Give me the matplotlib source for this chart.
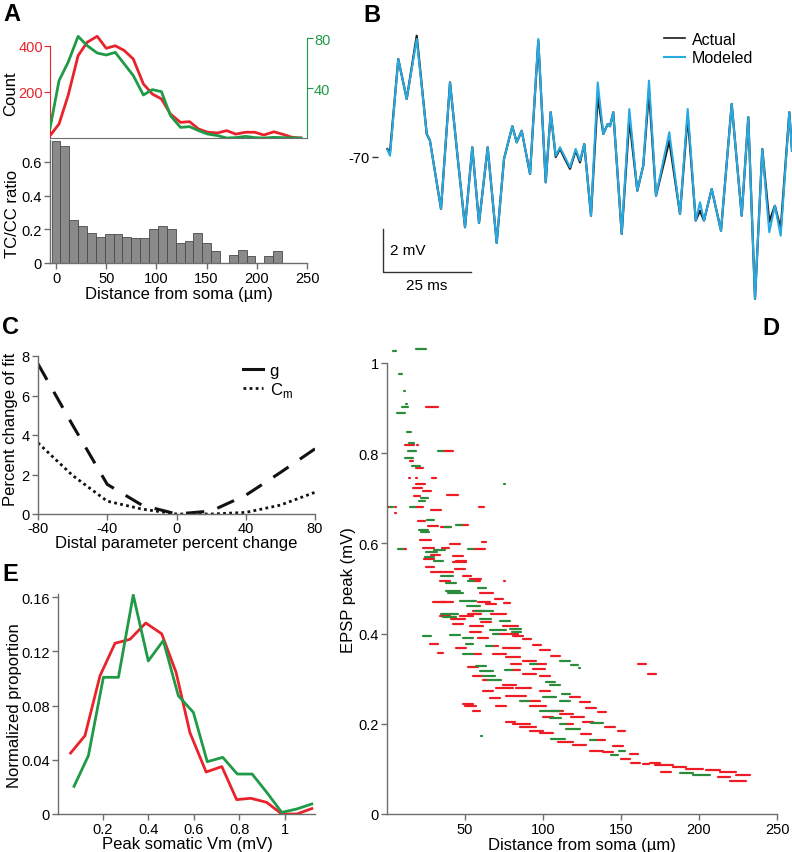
import matplotlib
matplotlib.use("Agg")
import matplotlib.pyplot as plt
from matplotlib.lines import Line2D

plt.rcParams['font.family'] = ['Liberation Sans', 'DejaVu Sans']
plt.rcParams['axes.unicode_minus'] = False

W, H = 792, 853
RED = '#e8232b'
GREEN = '#1f9a46'
D_RED = '#ee1c25'
D_GREEN = '#2a8c3c'
CYAN = '#27aae1'
GREY = '#6d6d6d'

# --- A: synapse counts and TC/CC ratio vs distance ---
count_dist = [-6, 3, 12, 22, 31, 41, 50, 59, 68, 77, 87, 96, 105, 114, 124, 133,
              142, 151, 161, 170, 179, 189, 198, 207, 217, 226, 235, 244]
count_red = [10, 61, 184, 358, 416, 442, 390, 401, 380, 343, 235, 191, 170, 104, 68, 71,
             39, 25, 22, 32, 17, 25, 25, 13, 27, 16, 3, 0]
count_green = [7.7, 45.9, 60.5, 81.3, 73.9, 68, 66.4, 68.5, 59.2, 49.9, 34.4, 38.7, 37.1, 17.9,
               8.5, 9.1, 5.9, 3.2, 1.9, 0, 0.3, 1.3, 0.3, 0, 0.5, 0.3, 0, 0]

ratio_bins = [0, 8.8, 17.7, 26.5, 35.3, 44.2, 53, 61.8, 70.6, 79.5, 88.3, 97.1, 106,
              114.8, 123.6, 132.5, 141.3, 150.1, 158.9, 167.8, 176.6, 185.4, 194.3,
              203.1, 211.9, 220.8]
ratio = [0.724, 0.692, 0.256, 0.22, 0.176, 0.156, 0.17, 0.17, 0.156, 0.148, 0.148, 0.202,
         0.222, 0.202, 0.12, 0.128, 0.178, 0.12, 0.072, 0, 0.05, 0.076, 0.04, 0, 0.04, 0.072]

# --- B: actual vs modeled somatic trace ---
t_ms = [0.1, 0.85, 3.2, 5.6, 8.44, 11.28, 12.2, 15.34, 17.9, 19.97, 22.16, 24.23, 26.14,
        28.6, 31.16, 33.24, 35.6, 36.85, 38.27, 40.63, 42.98, 45.09, 46.5, 47.93, 49.15,
        50.57, 51.99, 53.6, 54.83, 56.05, 57.95, 59.86, 61.45, 62.7, 63.35, 64.29, 66.68,
        68.84, 71.11, 72.81, 74.43, 76.42, 80.2, 83.24, 85.43, 87.7, 88.92, 90.06, 92.24,
        94.89, 97.93, 100.77, 102.64, 104.55, 106.62, 108.6, 110.2, 111.85, 114.3, 115.06]
v_model = [-69.66, -69.94, -65.44, -67.30, -64.51, -68.93, -69.24, -72.42, -66.53, -69.86,
           -73.27, -69.55, -73.07, -69.55, -74.0, -70.09, -68.57, -69.32, -68.78, -70.79,
           -64.51, -71.18, -67.92, -69.94, -69.55, -70.01, -70.48, -69.63, -70.17, -69.40,
           -72.73, -66.53, -68.93, -68.47, -68.57, -67.92, -73.58, -67.77, -71.57, -70.40,
           -66.45, -71.80, -68.85, -72.65, -67.77, -72.96, -72.11, -72.96, -71.49, -73.43,
           -67.53, -72.73, -68.15, -76.60, -69.63, -73.50, -72.27, -73.66, -67.92, -69.71]
v_actual = [-69.63, -69.78, -65.44, -67.30, -64.36, -68.93, -69.24, -72.42, -66.53, -69.86,
            -73.27, -69.55, -73.07, -69.55, -74.0, -70.09, -68.57, -69.32, -68.78, -70.79,
            -64.60, -71.18, -67.92, -70.00, -69.62, -70.10, -70.55, -69.70, -70.25, -69.40,
            -72.73, -67.15, -68.93, -68.47, -68.57, -67.92, -73.58, -68.23, -71.57, -70.40,
            -66.92, -71.80, -69.24, -72.65, -68.08, -72.96, -72.50, -72.96, -71.49, -73.43,
            -67.53, -72.73, -68.15, -76.60, -69.63, -73.02, -72.27, -73.35, -67.92, -69.71]

# --- C: fit sensitivity to distal parameters ---
param_change = [-80, -60, -40, -20, 0, 20, 40, 60, 80]
fit_g = [7.6, 4.5, 1.5, 0.45, 0, 0.15, 0.95, 2.1, 3.3]
fit_cm = [3.6, 1.95, 0.65, 0.25, 0, 0, 0.08, 0.45, 1.1]

# --- D: EPSP peak vs distance (x_start, x_end, peak) ---
d_red = [
    (25.3, 32.7, 0.902), (11.8, 17.3, 0.819), (19.0, 19.6, 0.817), (36.0, 42.3, 0.805),
    (14.5, 16.7, 0.783), (18.8, 23.1, 0.767), (14.0, 15.0, 0.746), (18.5, 19.0, 0.746),
    (29.1, 31.2, 0.746), (18.8, 24.2, 0.732), (16.7, 22.5, 0.723), (23.0, 28.5, 0.715),
    (38.5, 45.5, 0.708), (17.3, 21.0, 0.706), (0.0, 1.0, 0.680), (5.0, 6.0, 0.680),
    (5.1, 5.6, 0.668), (18.0, 23.1, 0.680), (28.5, 34.9, 0.674), (59.0, 62.0, 0.680),
    (19.9, 24.2, 0.650), (26.3, 32.7, 0.639), (34.9, 41.3, 0.636), (47.0, 51.9, 0.641),
    (40.2, 46.6, 0.599), (61.2, 63.7, 0.604), (21.4, 28.0, 0.608), (10.0, 12.4, 0.588),
    (55.0, 62.6, 0.588), (22.8, 30.0, 0.590), (35.0, 40.0, 0.590), (28.0, 34.0, 0.575),
    (24.0, 30.0, 0.565), (42.3, 48.7, 0.571), (44.5, 50.9, 0.560), (25.2, 30.0, 0.547),
    (28.0, 34.8, 0.537), (42.3, 50.9, 0.559), (43.3, 49.8, 0.543), (48.7, 54.1, 0.528),
    (55.0, 59.4, 0.517), (75.3, 75.8, 0.516), (33.8, 42.3, 0.536), (59.4, 67.9, 0.491),
    (33.8, 42.3, 0.471), (69.0, 74.3, 0.477), (63.7, 70.1, 0.466), (75.0, 79.1, 0.467),
    (55.1, 60.0, 0.451), (33.8, 40.2, 0.440), (46.6, 55.1, 0.440), (66.9, 76.4, 0.443),
    (42.3, 48.7, 0.421), (53.0, 61.5, 0.417), (74.3, 84.0, 0.417), (76.4, 84.0, 0.400),
    (53.0, 60.0, 0.403), (87.2, 92.5, 0.387), (58.3, 64.8, 0.390), (72.0, 76.4, 0.399),
    (80.8, 87.2, 0.395), (93.6, 98.9, 0.375), (44.5, 50.9, 0.367), (97.8, 104.2, 0.364),
    (68.0, 71.2, 0.372), (74.3, 85.0, 0.367), (55.1, 60.5, 0.355), (105.3, 110.7, 0.351),
    (68.0, 76.4, 0.355), (76.4, 85.0, 0.347), (87.2, 95.7, 0.340), (79.7, 86.1, 0.333),
    (96.0, 102.2, 0.333), (51.9, 58.3, 0.325), (93.6, 101.1, 0.322), (80.0, 85.0, 0.320),
    (87.2, 95.7, 0.310), (55.1, 61.5, 0.307), (97.8, 104.2, 0.305), (61.5, 65.0, 0.297),
    (74.3, 82.9, 0.285), (70.0, 80.8, 0.280), (82.9, 92.5, 0.280), (61.5, 67.9, 0.273),
    (97.8, 104.2, 0.273), (76.4, 89.3, 0.262), (117.1, 123.5, 0.259), (65.8, 72.2, 0.257),
    (91.0, 98.0, 0.251), (123.5, 129.9, 0.248), (127.8, 134.2, 0.236), (91.5, 102.2, 0.240),
    (104.2, 112.8, 0.229), (49.8, 57.3, 0.240), (70.0, 76.4, 0.240), (110.7, 119.2, 0.222),
    (135.2, 140.6, 0.227), (55.1, 59.4, 0.229), (118.0, 126.0, 0.214), (100.0, 106.5, 0.214),
    (125.6, 132.0, 0.205), (76.4, 81.8, 0.205), (80.8, 91.5, 0.200), (139.5, 145.9, 0.193),
    (115.0, 119.2, 0.200), (148.0, 152.3, 0.185), (85.0, 95.7, 0.193), (91.5, 100.0, 0.185),
    (97.8, 106.5, 0.179), (124.6, 131.0, 0.178), (109.6, 119.2, 0.159), (134.0, 139.5, 0.163),
    (119.2, 127.8, 0.152), (130.0, 138.4, 0.140), (144.8, 151.2, 0.150), (155.5, 160.9, 0.134),
    (138.4, 144.8, 0.138), (150.2, 155.5, 0.122), (156.6, 161.9, 0.114), (164.0, 168.0, 0.110),
    (168.4, 174.8, 0.114), (171.6, 183.3, 0.108), (183.3, 191.9, 0.104), (191.9, 202.6, 0.100),
    (204.7, 213.3, 0.097), (213.3, 223.9, 0.093), (223.9, 232.5, 0.086), (212.2, 220.0, 0.081),
    (220.0, 230.3, 0.074), (175.9, 182.2, 0.094), (160.9, 166.3, 0.333), (167.3, 172.7, 0.310),
    (27.4, 32.7, 0.377), (32.7, 35.9, 0.356), (48.7, 55.0, 0.243), (29.5, 38.0, 0.470),
    (58.3, 65.8, 0.469), (41.3, 49.8, 0.432), (51.9, 60.5, 0.443), (60.5, 66.9, 0.426),
    (53.0, 60.5, 0.522), (33.8, 40.2, 0.517),
]
d_green = [
    (3.8, 6.0, 1.026), (18.8, 25.3, 1.031), (7.7, 9.9, 0.976), (11.2, 11.7, 0.937),
    (12.4, 12.9, 0.909), (9.9, 13.5, 0.902), (6.4, 11.3, 0.890), (13.1, 15.6, 0.846),
    (14.0, 17.0, 0.823), (32.7, 36.0, 0.805), (13.5, 18.4, 0.805), (11.3, 16.7, 0.789),
    (16.0, 21.0, 0.772), (20.5, 24.2, 0.693), (22.0, 26.0, 0.700), (75.3, 75.8, 0.731),
    (2.0, 4.0, 0.680), (14.5, 18.0, 0.680), (25.6, 30.0, 0.651), (20.5, 26.3, 0.630),
    (22.0, 27.0, 0.625), (44.5, 48.0, 0.641), (37.0, 41.3, 0.636), (7.1, 10.0, 0.588),
    (51.9, 55.0, 0.588), (25.0, 32.0, 0.580), (30.0, 37.0, 0.585), (24.2, 30.0, 0.570),
    (30.0, 36.0, 0.560), (34.8, 42.3, 0.528), (38.0, 44.0, 0.513), (39.1, 48.7, 0.489),
    (38.0, 46.6, 0.495), (46.6, 57.3, 0.473), (51.0, 59.4, 0.462), (58.3, 63.7, 0.502),
    (51.9, 56.0, 0.517), (34.8, 45.5, 0.443), (36.0, 44.0, 0.436), (56.2, 62.0, 0.450),
    (60.0, 67.9, 0.451), (59.4, 66.9, 0.432), (72.2, 78.6, 0.428), (65.8, 76.4, 0.408),
    (78.6, 86.1, 0.410), (80.0, 86.1, 0.403), (40.2, 46.6, 0.397), (25.2, 28.4, 0.394),
    (68.0, 72.0, 0.399), (48.7, 55.1, 0.390), (50.9, 55.0, 0.376), (63.7, 68.0, 0.372),
    (48.7, 55.1, 0.355), (110.7, 117.1, 0.340), (118.0, 122.2, 0.330), (123.0, 123.5, 0.323),
    (57.3, 63.7, 0.329), (59.4, 67.9, 0.318), (75.4, 80.0, 0.320), (61.5, 69.0, 0.305),
    (102.2, 107.5, 0.292), (65.0, 73.3, 0.297), (104.2, 110.7, 0.285), (112.1, 117.5, 0.266),
    (100.0, 108.6, 0.259), (110.7, 117.1, 0.251), (85.0, 91.0, 0.251), (45.3, 45.8, 0.249),
    (97.8, 110.7, 0.228), (104.2, 111.8, 0.212), (130.9, 138.4, 0.202), (110.7, 115.0, 0.200),
    (115.0, 123.5, 0.188), (105.3, 113.9, 0.166), (130.0, 134.0, 0.164), (149.0, 152.3, 0.139),
    (143.7, 148.0, 0.130), (60.3, 60.8, 0.172), (187.6, 196.2, 0.090), (196.2, 206.8, 0.086),
    (91.5, 96.0, 0.333), (23.0, 25.0, 0.394),
]

# --- E: distribution of peak somatic Vm ---
vm_red = [0.059, 0.122, 0.188, 0.254, 0.320, 0.389, 0.459, 0.522, 0.583, 0.654, 0.723,
          0.788, 0.850, 0.920, 0.986, 1.052, 1.118]
prop_red = [0.045, 0.0578, 0.102, 0.126, 0.129, 0.141, 0.133, 0.1046, 0.060, 0.031, 0.035,
            0.0106, 0.0116, 0.0086, 0.0, 0.0, 0.004]
vm_green = [0.074, 0.137, 0.203, 0.269, 0.334, 0.400, 0.466, 0.532, 0.598, 0.659, 0.727,
            0.791, 0.856, 0.920, 0.986, 1.052, 1.118]
prop_green = [0.0204, 0.043, 0.1009, 0.1009, 0.1616, 0.113, 0.128, 0.0873, 0.075, 0.0386,
              0.0418, 0.0295, 0.0295, 0.016, 0.0012, 0.0037, 0.0074]


def px_axes(fig, left, top, right, bottom):
    return fig.add_axes([left / W, 1 - bottom / H, (right - left) / W, (bottom - top) / H])


def style(ax):
    for s in ['top', 'right']:
        ax.spines[s].set_visible(False)
    for s in ['left', 'bottom']:
        ax.spines[s].set_color(GREY)
        ax.spines[s].set_linewidth(1)
    ax.tick_params(direction='out', length=4, width=1, color=GREY, labelsize=10.5, pad=2)


LABEL_FS = 12

fig = plt.figure(figsize=(7.92, 8.53), dpi=100)

# A top: counts
ax_cnt = px_axes(fig, 50, 35, 307, 139)
ax_cnt2 = ax_cnt.twinx()
ax_cnt.plot(count_dist, count_red, color=RED, lw=2)
ax_cnt2.plot(count_dist, count_green, color=GREEN, lw=2)
ax_cnt.set_xlim(-6, 250)
ax_cnt.set_ylim(0, 452)
ax_cnt2.set_ylim(0, 83.2)
for a in (ax_cnt, ax_cnt2):
    a.spines['top'].set_visible(False)
ax_cnt.spines['right'].set_visible(False)
ax_cnt2.spines['left'].set_visible(False)
ax_cnt2.spines['bottom'].set_visible(False)
ax_cnt.spines['left'].set_color(RED)
ax_cnt.spines['left'].set_bounds(0, 400)
ax_cnt.spines['bottom'].set_color(GREY)
ax_cnt2.spines['right'].set_color(GREEN)
ax_cnt2.spines['right'].set_bounds(0, 80)
ax_cnt.set_xticks([])
ax_cnt.set_yticks([200, 400])
ax_cnt.tick_params(axis='y', colors=RED, length=4, labelsize=10.5, pad=1)
ax_cnt2.set_yticks([40, 80])
ax_cnt2.tick_params(axis='y', colors=GREEN, length=4, labelsize=10.5, pad=1)
ax_cnt.set_ylabel('Count', fontsize=LABEL_FS)
ax_cnt.yaxis.set_label_coords(-0.125, 0.44)

# A bottom: TC/CC ratio histogram
ax_hist = px_axes(fig, 50, 141, 307, 264)
ax_hist.bar(ratio_bins, ratio, width=8.8, color='#8a8a8a', edgecolor='#4a4a4a', linewidth=0.6)
ax_hist.set_xlim(-6, 250)
ax_hist.set_ylim(0, 0.73)
style(ax_hist)
ax_hist.set_xticks([0, 50, 100, 150, 200, 250])
ax_hist.set_yticks([0, 0.2, 0.4, 0.6])
ax_hist.set_yticklabels(['0', '0.2', '0.4', '0.6'])
ax_hist.set_ylabel('TC/CC ratio', fontsize=LABEL_FS)
ax_hist.yaxis.set_label_coords(-0.118, 0.41)
ax_hist.set_xlabel('Distance from soma (µm)', fontsize=LABEL_FS)
ax_hist.xaxis.set_label_coords(0.5, -0.19)

# B: voltage traces
ax_tr = px_axes(fig, 378, 20, 792, 305)
ax_tr.plot(t_ms, v_actual, color='#1a1a1a', lw=1.6, solid_joinstyle='round')
ax_tr.plot(t_ms, v_model, color=CYAN, lw=1.5, solid_joinstyle='round')
ax_tr.set_xlim(-2.56, 115.06)
ax_tr.set_ylim(-76.84, -63.58)
for s in ax_tr.spines.values():
    s.set_visible(False)
ax_tr.set_xticks([])
ax_tr.set_yticks([-70])
ax_tr.set_yticklabels(['-70'])
ax_tr.tick_params(axis='y', length=4, width=1, color='#333333', labelsize=10.5, pad=2)
ax_tr.plot([-1.14, -1.14, 23.86], [-73.35, -75.35, -75.35], color='#333333', lw=1)
ax_tr.text(0.85, -74.33, '2 mV', fontsize=11, va='center', ha='left')
ax_tr.text(11.3, -75.95, '25 ms', fontsize=11, va='center', ha='center')
handles = [Line2D([], [], color='#1a1a1a', lw=1.2), Line2D([], [], color=CYAN, lw=1.5)]
ax_tr.legend(handles, ['Actual', 'Modeled'], loc='upper left',
             bbox_to_anchor=(664 / W, 1 - 33 / H), bbox_transform=fig.transFigure,
             frameon=False, fontsize=11.5, borderpad=0, borderaxespad=0,
             handlelength=1.3, handletextpad=0.45, labelspacing=0.2)

# C: fit change vs distal parameter change
ax_c = px_axes(fig, 38, 357, 315, 515)
ax_c.plot(param_change, fit_g, color='#111111', lw=2.2, linestyle=(0, (6, 4.5)))
ax_c.plot(param_change, fit_cm, color='#111111', lw=2, linestyle=(0, (1, 1.2)))
ax_c.set_xlim(-80, 80)
ax_c.set_ylim(0, 8)
style(ax_c)
ax_c.tick_params(axis='x', pad=1)
ax_c.set_xticks([-80, -40, 0, 40, 80])
ax_c.set_yticks([0, 2, 4, 6, 8])
ax_c.set_ylabel('Percent change of fit', fontsize=LABEL_FS)
ax_c.yaxis.set_label_coords(-0.072, 0.54)
ax_c.set_xlabel('Distal parameter percent change', fontsize=LABEL_FS)
ax_c.xaxis.set_label_coords(0.5, -0.135)
c_handles = [Line2D([], [], color='#111111', lw=2.2),
             Line2D([], [], color='#111111', lw=2, linestyle=(0, (1, 1.2)))]
ax_c.legend(c_handles, ['g', r'C$_\mathregular{m}$'], loc='upper left',
            bbox_to_anchor=(243 / W, 1 - 364 / H), bbox_transform=fig.transFigure,
            frameon=False, fontsize=12, borderpad=0, borderaxespad=0,
            handlelength=1.2, handletextpad=0.4, labelspacing=0.1)

# D: EPSP peak vs distance
ax_d = px_axes(fig, 387, 345.9, 777, 815)
ax_d.hlines([s[2] for s in d_red], [s[0] for s in d_red], [s[1] for s in d_red],
            colors=D_RED, lw=1.6, capstyle='round')
ax_d.hlines([s[2] for s in d_green], [s[0] for s in d_green], [s[1] for s in d_green],
            colors=D_GREEN, lw=1.6, capstyle='round')
ax_d.set_xlim(0, 250)
ax_d.set_ylim(0, 1.04)
style(ax_d)
ax_d.spines['left'].set_bounds(0, 1)
ax_d.set_xticks([50, 100, 150, 200, 250])
ax_d.set_yticks([0, 0.2, 0.4, 0.6, 0.8, 1.0])
ax_d.set_yticklabels(['0', '0.2', '0.4', '0.6', '0.8', '1'])
ax_d.set_ylabel('EPSP peak (mV)', fontsize=LABEL_FS)
ax_d.yaxis.set_label_coords(-0.08, 0.48)
ax_d.set_xlabel('Distance from soma (µm)', fontsize=LABEL_FS)
ax_d.xaxis.set_label_coords(0.5, -0.049)

# E: normalized proportion vs peak somatic Vm
ax_e = px_axes(fig, 58.3, 595, 315, 815)
ax_e.plot(vm_red, prop_red, color=RED, lw=2)
ax_e.plot(vm_green, prop_green, color=GREEN, lw=2)
ax_e.set_xlim(0.005, 1.132)
ax_e.set_ylim(0, 0.1624)
style(ax_e)
ax_e.set_xticks([0.2, 0.4, 0.6, 0.8, 1.0])
ax_e.set_xticklabels(['0.2', '0.4', '0.6', '0.8', '1'])
ax_e.set_yticks([0, 0.04, 0.08, 0.12, 0.16])
ax_e.set_yticklabels(['0', '0.04', '0.08', '0.12', '0.16'])
ax_e.set_ylabel('Normalized proportion', fontsize=LABEL_FS)
ax_e.yaxis.set_label_coords(-0.141, 0.495)
ax_e.set_xlabel('Peak somatic Vm (mV)', fontsize=LABEL_FS)
ax_e.xaxis.set_label_coords(0.505, -0.1)

# panel letters
for letter, x, y in [('A', 3, 3), ('B', 363, 4), ('C', 2, 316), ('D', 762, 317), ('E', 2, 563)]:
    fig.text(x / W, 1 - y / H, letter, fontsize=17, fontweight='bold', va='top', ha='left')

fig.savefig('out.png', dpi=100)
